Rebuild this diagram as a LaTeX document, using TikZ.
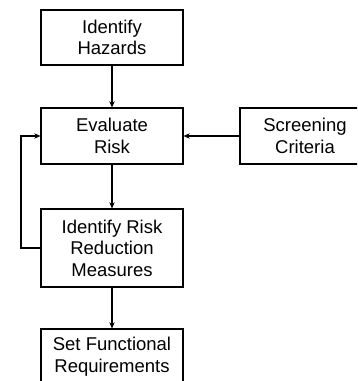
\documentclass[tikz,border=0pt]{standalone}
\usepackage{fontspec}
\setmainfont{Liberation Sans}
\usetikzlibrary{arrows.meta}
\begin{document}
\begin{tikzpicture}[x=1pt,y=-1pt,
  box/.style={draw=black, line width=1.3pt, rectangle, minimum width=142pt, align=center, inner sep=0pt,
    font=\fontsize{18.5}{21.5}\selectfont},
  arr/.style={line width=1.3pt, -{Stealth[length=6pt,width=5.5pt]}}]
\useasboundingbox (0,0) rectangle (357,381);
\clip (0,0) rectangle (357,381);
\node[box, minimum height=55pt] (haz) at (112,37.5) {Identify\\Hazards};
\node[box, minimum height=56pt] (eval) at (112,136) {Evaluate\\Risk};
\node[box, minimum height=56pt, minimum width=130pt] (scr) at (305,136) {Screening\\Criteria};
\node[box, minimum height=78pt] (red) at (112,248) {Identify Risk\\Reduction\\Measures};
\node[box, minimum height=55pt] (func) at (112,356.5) {Set Functional\\Requirements};
\draw[arr] (haz) -- (eval);
\draw[arr] (scr) -- (eval);
\draw[arr] (eval) -- (red);
\draw[arr] (red) -- (func);
\coordinate (fb) at (21,248);
\draw[arr] (red.west) -- (fb) |- (eval.west);
\end{tikzpicture}
\end{document}
